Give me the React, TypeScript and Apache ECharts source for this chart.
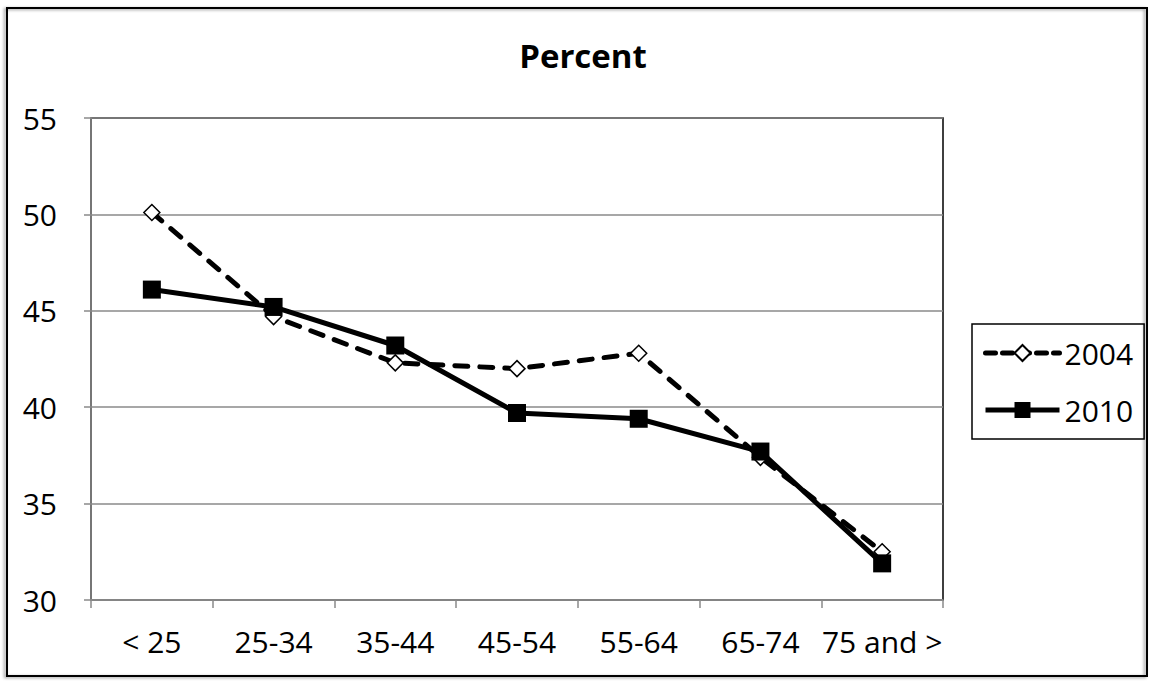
import React, { useEffect, useRef } from "react";
import * as echarts from "echarts";

const categories = ["< 25", "25-34", "35-44", "45-54", "55-64", "65-74", "75 and >"];
const values2004 = [50.1, 44.7, 42.3, 42.0, 42.8, 37.4, 32.5];
const values2010 = [46.1, 45.2, 43.2, 39.7, 39.4, 37.7, 31.9];
const yTicks = { min: 30, max: 55, interval: 5 };
const titleText = "Percent";
const seriesNames = ["2004", "2010"];

const FONT = "'Open Sans', 'Liberation Sans', sans-serif";
const DASH = [13, 12];

export default function App() {
  const ref = useRef<HTMLDivElement>(null);
  useEffect(() => {
    if (!ref.current) return;
    const chart = echarts.init(ref.current, null, { renderer: "svg" });
    chart.setOption({
      animation: false,
      backgroundColor: "#ffffff",
      title: {
        text: titleText,
        left: 578,
        top: 34,
        textAlign: "center",
        textStyle: { fontFamily: FONT, fontSize: 33, fontWeight: "bold", color: "#000" },
      },
      graphic: [
        {
          type: "rect",
          shape: { x: 7, y: 8, width: 1140, height: 668 },
          style: { fill: "none", stroke: "#000", lineWidth: 2, shadowBlur: 3, shadowColor: "rgba(0,0,0,0.4)", shadowOffsetX: -2, shadowOffsetY: 1 },
          z: 100,
        },
      ],
      grid: {
        left: 91,
        right: 209,
        top: 118,
        bottom: 82,
        show: true,
        borderColor: "#000",
        borderWidth: 1.5,
        backgroundColor: "transparent",
      },
      legend: {
        left: 972,
        top: 324,
        orient: "vertical",
        borderColor: "#000",
        borderWidth: 1.5,
        padding: [14, 11, 14, 11],
        itemGap: 27,
        itemWidth: 74,
        itemHeight: 20,
        textStyle: { fontFamily: FONT, fontSize: 30, color: "#000", lineHeight: 30 },
        data: [
          { name: seriesNames[0], lineStyle: { color: "#000", width: 5, type: [10, 7], cap: "round" } },
          { name: seriesNames[1], lineStyle: { color: "#000", width: 5, type: "solid" } },
        ],
      },
      xAxis: {
        type: "category",
        data: categories,
        boundaryGap: true,
        axisLine: { show: true, lineStyle: { color: "#8a8a8a", width: 1.5 } },
        axisTick: { show: true, length: 8, inside: false, alignWithLabel: false, lineStyle: { color: "#8a8a8a", width: 1.5 } },
        axisLabel: { fontFamily: FONT, fontSize: 30, color: "#000", margin: 26, interval: 0 },
        splitLine: { show: false },
      },
      yAxis: {
        type: "value",
        min: yTicks.min,
        max: yTicks.max,
        interval: yTicks.interval,
        axisLine: { show: true, lineStyle: { color: "#8a8a8a", width: 1.5 } },
        axisTick: { show: true, length: 7, lineStyle: { color: "#8a8a8a", width: 1.5 } },
        axisLabel: { fontFamily: FONT, fontSize: 30, color: "#000", margin: 34 },
        splitLine: { show: true, lineStyle: { color: "#8a8a8a", width: 1.5 } },
      },
      series: [
        {
          name: seriesNames[0],
          type: "line",
          data: values2004,
          symbol: "diamond",
          symbolSize: 16,
          showAllSymbol: true,
          itemStyle: { color: "#ffffff", borderColor: "#000", borderWidth: 1.5 },
          lineStyle: { color: "#000", width: 5, type: DASH, cap: "round" },
          z: 2,
        },
        {
          name: seriesNames[1],
          type: "line",
          data: values2010,
          symbol: "rect",
          symbolSize: 18,
          showAllSymbol: true,
          itemStyle: { color: "#000", borderColor: "#000", borderWidth: 0 },
          lineStyle: { color: "#000", width: 5, type: "solid" },
          z: 3,
        },
      ],
    });
    return () => chart.dispose();
  }, []);
  return (
    <div
      ref={ref}
      style={{ position: "fixed", left: 0, top: 0, width: 1152, height: 682, background: "#fff" }}
    />
  );
}
